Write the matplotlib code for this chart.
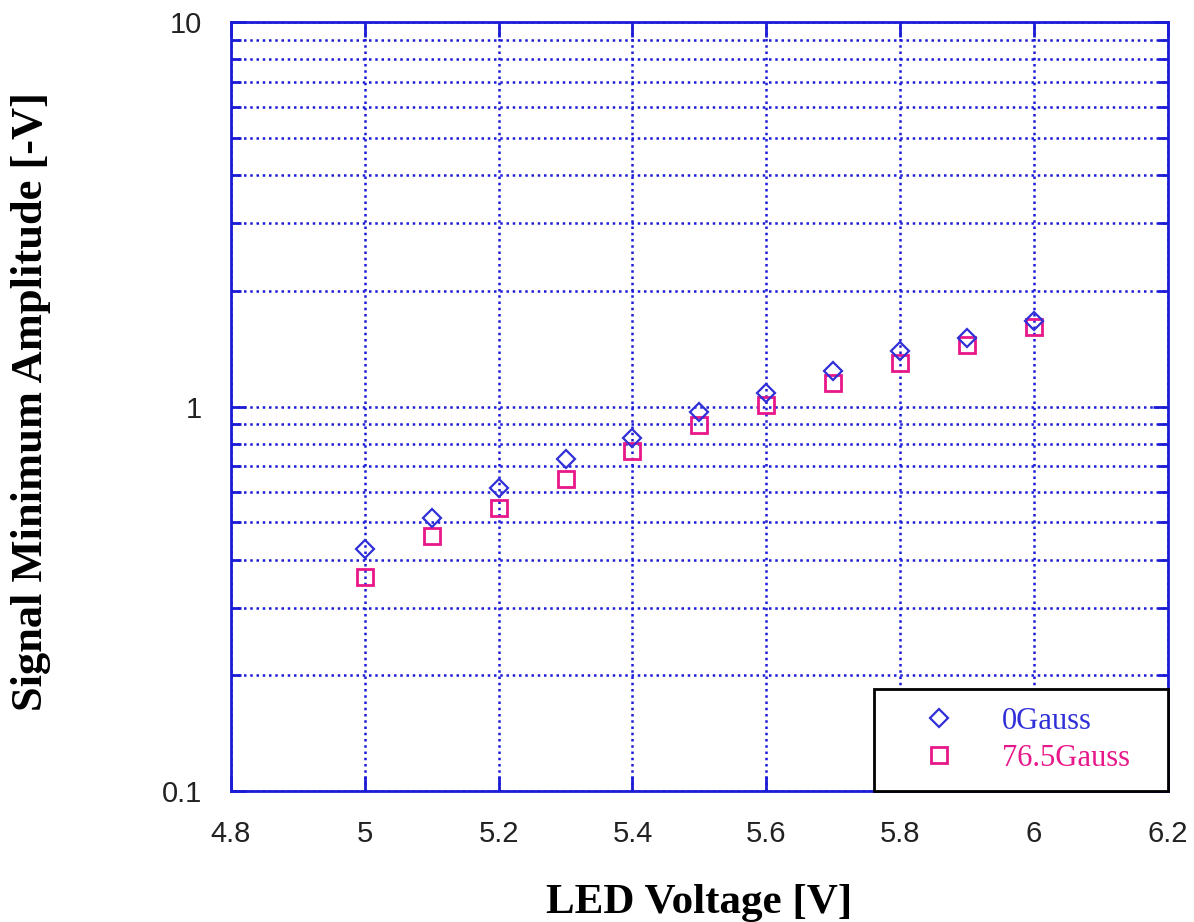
import numpy as np
import matplotlib
matplotlib.use("Agg")
import matplotlib.pyplot as plt
from matplotlib.ticker import LogLocator, NullFormatter, FixedLocator

# LED voltage steps
led_voltage = [5.0, 5.1, 5.2, 5.3, 5.4, 5.5, 5.6, 5.7, 5.8, 5.9, 6.0]

# signal minimum amplitude [-V]
amp_0gauss = [0.425, 0.513, 0.614, 0.730, 0.828, 0.968, 1.084, 1.237, 1.394, 1.507, 1.668]
amp_765gauss = [0.360, 0.461, 0.545, 0.648, 0.766, 0.895, 1.009, 1.151, 1.297, 1.445, 1.610]

x_ticks = [4.8, 5.0, 5.2, 5.4, 5.6, 5.8, 6.0, 6.2]
x_tick_labels = ["4.8", "5", "5.2", "5.4", "5.6", "5.8", "6", "6.2"]
y_ticks = [0.1, 1, 10]
y_tick_labels = ["0.1", "1", "10"]

BLUE = "#1c1cd6"
MAGENTA = "#e8178a"

fig = plt.figure(figsize=(11.94, 9.22), dpi=100)
ax = fig.add_axes([0.1935, 0.142, 0.7845, 0.834])

ax.plot(led_voltage, amp_0gauss, linestyle="none", marker="D", markersize=9,
        markerfacecolor="none", markeredgecolor="#3030d8", markeredgewidth=1.6,
        label="0Gauss", zorder=4)
ax.plot(led_voltage, amp_765gauss, linestyle="none", marker="s", markersize=11,
        markerfacecolor="none", markeredgecolor=MAGENTA, markeredgewidth=2.0,
        label="76.5Gauss", zorder=3)

ax.set_yscale("log")
ax.set_xlim(4.8, 6.2)
ax.set_ylim(0.1, 10)

ax.xaxis.set_major_locator(FixedLocator(x_ticks))
ax.set_xticklabels(x_tick_labels)
ax.yaxis.set_major_locator(FixedLocator(y_ticks))
ax.set_yticklabels(y_tick_labels)
ax.yaxis.set_minor_locator(LogLocator(base=10, subs=np.arange(2, 10)))
ax.yaxis.set_minor_formatter(NullFormatter())

ax.grid(True, which="both", color=BLUE, linestyle=(0, (1, 1.5)), linewidth=1.8)
ax.set_axisbelow(True)

for s in ax.spines.values():
    s.set_color(BLUE)
    s.set_linewidth(2)

ax.tick_params(which="both", direction="in", top=True, right=True,
               color=BLUE, width=2)
ax.tick_params(which="major", length=11, labelsize=21, pad=21)
ax.tick_params(which="minor", length=7)
for lab in ax.get_xticklabels() + ax.get_yticklabels():
    lab.set_family("Liberation Sans")
    lab.set_color("#222222")

ax.set_xlabel("LED Voltage [V]", fontsize=31, fontweight="bold",
              family="Liberation Serif")
ax.set_ylabel("Signal Minimum Amplitude [-V]", fontsize=32, fontweight="bold",
              family="Liberation Serif")
ax.xaxis.set_label_coords(0.4995, -0.121)
ax.yaxis.set_label_coords(-0.192, 0.506)

leg = ax.legend(loc="lower right", bbox_to_anchor=(0.686, 0, 0.314, 0.134),
                mode="expand", borderaxespad=0, fancybox=False,
                framealpha=1, edgecolor="black", labelcolor="markeredgecolor",
                prop={"family": "Liberation Serif", "size": 22},
                handletextpad=0.5, borderpad=0.6, labelspacing=0.25,
                handlelength=3.1, markerscale=1.0)
leg.get_frame().set_linewidth(2)
leg.set_zorder(10)

fig.savefig("out.png", dpi=100)
